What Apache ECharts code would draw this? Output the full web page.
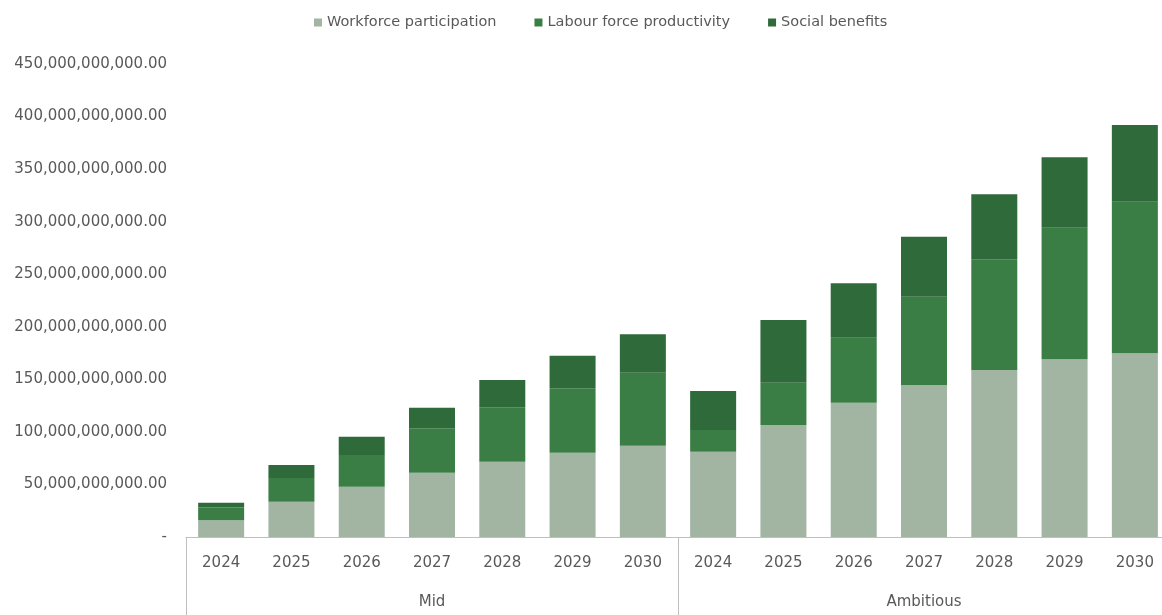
<!DOCTYPE html>
<html>
<head>
<meta charset="utf-8">
<script src="https://cdn.jsdelivr.net/npm/echarts@6/dist/echarts.min.js"></script>
<style>
html,body{margin:0;padding:0;background:#fff;overflow:hidden;}
#chart{width:1162px;height:615px;}
</style>
</head>
<body>
<div id="chart"></div>
<script>
const years = ['2024','2025','2026','2027','2028','2029','2030'];
const scenarios = ['Mid','Ambitious'];
const seriesNames = ['Workforce participation','Labour force productivity','Social benefits'];
// values in billions
const workforceMid = [16, 33.6, 47.9, 61.2, 71.6, 80.2, 86.9];
const workforceAmb = [81.2, 106.6, 127.8, 144.6, 158.9, 169.1, 174.8];
const labourMid = [12, 22.5, 30.1, 42.2, 51.8, 61.3, 69.4];
const labourAmb = [20.6, 40.2, 61.8, 84, 105.3, 125.2, 144.2];
const socialMid = [4.5, 12.4, 17.4, 19.6, 26, 31, 36.5];
const socialAmb = [37.1, 59.6, 51.8, 57.1, 61.8, 66.9, 73];
const yTicks = {min: 0, max: 450e9, interval: 50e9};
const colors = ['#a1b5a2', '#3a7e45', '#2f6a3a'];

const B = 1e9;
const categories = scenarios.flatMap(s => years.map(y => s + '|' + y));
const toAbs = arr => arr.map(v => Math.round(v * B));
const data = [
  toAbs(workforceMid.concat(workforceAmb)),
  toAbs(labourMid.concat(labourAmb)),
  toAbs(socialMid.concat(socialAmb))
];

const font = 'DejaVu Sans';
const chart = echarts.init(document.getElementById('chart'), null, {renderer: 'canvas'});
chart.setOption({
  animation: false,
  backgroundColor: '#ffffff',
  textStyle: {fontFamily: font},
  legend: {
    top: 10,
    left: 309,
    icon: 'rect',
    itemWidth: 8,
    itemHeight: 8,
    itemGap: 38,
    textStyle: {fontFamily: font, fontSize: 14.5, color: '#595959'},
    data: seriesNames
  },
  grid: {left: 186, right: -8, top: 64, bottom: 78, containLabel: false, outerBoundsMode: 'none'},
  xAxis: [{
    type: 'category',
    data: categories,
    axisLine: {show: true, lineStyle: {color: '#bfbfbf', width: 1}},
    axisTick: {
      show: true,
      length: 80,
      interval: function (idx) { return idx === 0 || idx === 7; },
      lineStyle: {color: '#bfbfbf'}
    },
    axisLabel: {
      interval: 0,
      margin: 19,
      fontFamily: font,
      fontSize: 15,
      color: '#595959',
      formatter: v => v.split('|')[1]
    }
  }, {
    type: 'category',
    position: 'bottom',
    data: scenarios,
    axisLine: {show: false},
    axisTick: {show: false},
    axisLabel: {margin: 58, fontFamily: font, fontSize: 15, color: '#595959'}
  }],
  yAxis: {
    type: 'value',
    min: yTicks.min,
    max: yTicks.max,
    interval: yTicks.interval,
    splitLine: {show: false},
    axisLine: {show: false},
    axisTick: {show: false},
    axisLabel: {
      margin: 19,
      fontFamily: font,
      fontSize: 15,
      color: '#595959',
      formatter: function (v) {
        if (v === 0) return '-';
        return v.toLocaleString('en-US', {minimumFractionDigits: 2, maximumFractionDigits: 2});
      }
    }
  },
  series: seriesNames.map((name, i) => ({
    name: name,
    type: 'bar',
    stack: 'total',
    xAxisIndex: 0,
    barWidth: 46,
    itemStyle: {color: colors[i]},
    data: data[i]
  }))
});
</script>
</body>
</html>
